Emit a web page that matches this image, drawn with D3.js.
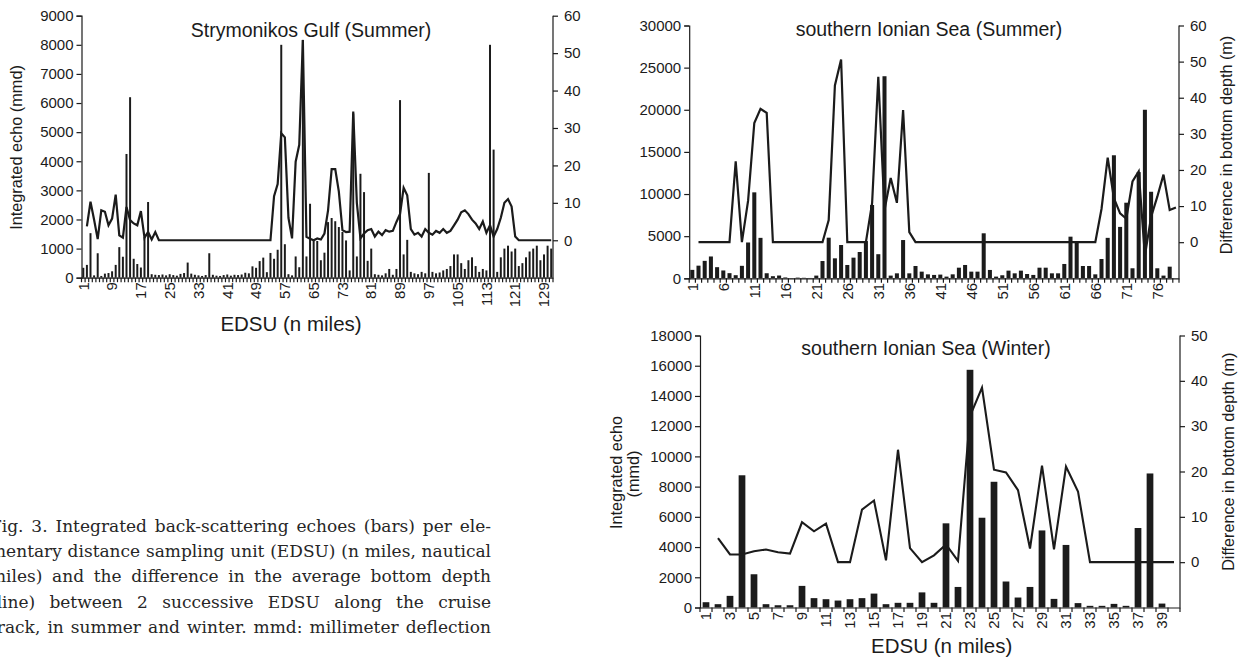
<!DOCTYPE html>
<html>
<head>
<meta charset="utf-8">
<script src="https://cdn.jsdelivr.net/npm/d3@7"></script>
<style>
  body { margin: 0; background: #fff; }
  #fig { position: relative; width: 1242px; height: 658px; overflow: hidden; background: #fff; }
  #fig svg { position: absolute; left: 0; top: 0; }
</style>
</head>
<body>
<div id="fig"></div>
<script>
// ---- data: Strymonikos Gulf (Summer), EDSU 1..131
var stryEcho = [340,440,1530,80,840,60,140,160,220,440,
  1050,720,4250,6200,650,470,350,1400,2600,120,
  100,90,110,80,120,90,70,130,160,520,
  140,100,80,60,90,840,100,70,60,90,
  110,70,100,90,110,170,150,390,340,570,
  690,190,850,650,960,8000,1150,120,80,730,
  360,8170,730,2540,1280,1260,600,860,1910,2050,
  1940,1740,1570,1280,250,5640,730,3570,2940,580,
  1000,120,100,80,150,300,100,300,6100,800,
  1300,200,150,120,200,150,3600,200,150,180,
  250,300,400,800,800,500,300,600,700,400,
  200,300,250,8000,4400,200,700,1000,1100,900,
  1000,400,500,700,900,1000,1100,600,800,1100,1000];
var stryDepth = [null,3.7,10.3,5.5,0.3,8.0,7.6,4.0,5.8,12.2,
  1.3,0.7,8.9,5.4,4.5,4.0,7.8,0.7,2.2,0.2,
  2.2,0,0,0,0,0,0,0,0,0,
  0,0,0,0,0,0,0,0,0,0,
  0,0,0,0,0,0,0,0,0,0,
  0,0,0,11.8,15,28.6,27.5,6,0.5,21,
  25.5,53.5,0.9,0.4,0,0.5,0.2,1.8,8,19,
  19,13,2.7,2.2,2.3,34.4,10,0.5,1.8,2.7,
  3,1,2.3,1.4,2.7,2.3,2.5,4.9,7,14,
  12,3,1.5,2,1,3,2,1.5,2.5,2,
  3,2,2.5,4,5.5,7.5,8,7,5.5,4.5,
  3,5,2,4,1,3,6,10,11,9,
  1,0,0,0,0,0,0,0,0,0,0];
var stryTicks = d3.range(1, 132, 8);

// ---- data: southern Ionian Sea (Summer), EDSU 1..79
var ionSumEcho = [1000,1500,2070,2590,1320,930,610,370,1480,4250,
  10200,4800,600,250,330,100,30,80,60,40,
  320,2050,4820,2370,3950,1580,2450,3120,4420,8700,
  2860,23980,320,590,4540,590,1460,790,470,400,
  440,200,470,1260,1580,790,790,5340,990,200,
  360,910,590,910,510,400,1260,1260,590,590,
  1700,4940,4270,1460,1460,470,2290,4800,14600,6100,
  8970,1190,12600,20000,10270,1190,320,1380,0];
var ionSumDepth = [null,0,0,0,0,0,0,22.4,0,11.5,
  33,36.9,35.8,0,0,0,0,0,0,0,
  0,0,6.1,43.4,50.6,0,0,0,0,10.8,
  45.8,8.9,17.8,10.9,36.6,2.8,0,0,0,0,
  0,0,0,0,0,0,0,0,0,0,
  0,0,0,0,0,0,0,0,0,0,
  0,0,0,0,0,0,9.2,23.4,12.2,8,
  6.5,16.8,19.6,-3.7,7,12.6,18.7,8.9,9.6];
var ionSumTicks = d3.range(1, 80, 5);

// ---- data: southern Ionian Sea (Winter), EDSU 1..40
var ionWinEcho = [350,220,770,8750,2200,220,150,150,1430,620,
  550,460,550,620,920,220,310,310,1000,310,
  5570,1360,15730,5940,8320,1720,660,1360,5100,570,
  4140,290,110,110,240,110,5260,8870,260,0];
var ionWinDepth = [null,5.3,1.7,1.7,2.4,2.8,2.2,1.9,8.8,6.8,
  8.5,0,0,11.6,13.6,0.4,24.8,3.1,0,1.5,
  3.9,0.3,32.2,38.5,20.4,19.8,15.9,3,21.3,2.8,
  21.1,15.6,0,0,0,0,0,0,0,0];
var ionWinTicks = d3.range(1, 41, 2);

var captionLines = [
  "Fig. 3. Integrated back-scattering echoes (bars) per ele-",
  "mentary distance sampling unit (EDSU) (n miles, nautical",
  "miles) and the difference in the average bottom depth",
  "(line) between 2 successive EDSU along the cruise",
  "track, in summer and winter. mmd: millimeter deflection"
];

var ink = "#1b1b1b";
var sans = "'Liberation Sans', Arial, sans-serif";

var svg = d3.select("#fig").append("svg")
  .attr("width", 1242).attr("height", 658);

function drawPanel(p) {
  var cats = d3.range(1, p.echo.length + 1);
  var x = d3.scaleBand().domain(cats).range([p.x0, p.x1]).padding(0);
  var bw = x.bandwidth();
  var yL = d3.scaleLinear().domain([0, p.leftMax]).range([p.yBot, p.yTop]);
  var yR = d3.scaleLinear().domain([p.rMin, p.rMax]).range([p.yBot, p.yTop]);
  var g = svg.append("g");

  // bars
  g.append("g").selectAll("rect")
    .data(p.echo)
    .join("rect")
    .attr("x", function(d, i) { return x(i + 1) + bw * (1 - p.barFrac) / 2; })
    .attr("width", bw * p.barFrac)
    .attr("y", function(d) { return yL(d); })
    .attr("height", function(d) { return p.yBot - yL(d); })
    .attr("fill", ink);

  // depth line
  var line = d3.line()
    .defined(function(d) { return d != null; })
    .x(function(d, i) { return x(i + 1) + bw / 2; })
    .y(function(d) { return yR(d); });
  g.append("path")
    .datum(p.depth)
    .attr("d", line)
    .attr("fill", "none")
    .attr("stroke", ink)
    .attr("stroke-width", p.lineW)
    .attr("stroke-linejoin", "miter");

  // left axis
  var ax = g.append("g")
    .attr("transform", "translate(" + p.x0 + ",0)")
    .call(d3.axisLeft(yL).tickValues(d3.range(0, p.leftMax + 1, p.leftStep))
      .tickSize(5).tickPadding(3).tickFormat(d3.format("d")));
  // right axis
  var ar = g.append("g")
    .attr("transform", "translate(" + p.x1 + ",0)")
    .call(d3.axisRight(yR).tickValues(d3.range(0, p.rMax + 1, 10))
      .tickSize(5).tickPadding(6).tickFormat(d3.format("d")));
  ar.select(".domain").attr("d", "M0," + p.yTop + "V" + p.yBot);

  // bottom axis with rotated labels
  var ab = g.append("g")
    .attr("transform", "translate(0," + p.yBot + ")")
    .call(d3.axisBottom(x).tickValues(p.ticks).tickSize(0).tickPadding(0));
  ab.selectAll("text")
    .attr("transform", "rotate(-90)")
    .attr("x", -4.5).attr("y", 0).attr("dy", "0.35em")
    .style("text-anchor", "end");
  ab.append("g").selectAll("line")
    .data(d3.range(0, cats.length + 1))
    .join("line")
    .attr("x1", function(i) { return p.x0 + i * bw; })
    .attr("x2", function(i) { return p.x0 + i * bw; })
    .attr("y1", 0).attr("y2", 4.5)
    .attr("stroke", ink).attr("stroke-width", 1);

  [ax, ar, ab].forEach(function(a) {
    a.selectAll("text").attr("font-family", sans).attr("font-size", 15).attr("fill", ink);
    a.selectAll(".domain, line").attr("stroke", ink).attr("stroke-width", 1.2);
  });

  // title
  g.append("text")
    .attr("x", p.titleX).attr("y", p.titleY)
    .attr("text-anchor", "middle")
    .attr("font-family", sans).attr("font-size", 19.5).attr("fill", ink)
    .text(p.title);

  // axis labels
  (p.leftLabel || []).forEach(function(l) {
    g.append("text")
      .attr("transform", "translate(" + l.x + "," + l.y + ") rotate(-90)")
      .attr("text-anchor", "middle").attr("dy", "0.35em")
      .attr("font-family", sans).attr("font-size", 16.3).attr("fill", ink)
      .text(l.t);
  });
  if (p.rightLabel) {
    g.append("text")
      .attr("transform", "translate(" + p.rightLabel.x + "," + p.rightLabel.y + ") rotate(-90)")
      .attr("text-anchor", "middle").attr("dy", "0.35em")
      .attr("font-family", sans).attr("font-size", 16.2).attr("fill", ink)
      .text(p.rightLabel.t);
  }
  if (p.xLabel) {
    g.append("text")
      .attr("x", p.xLabel.x).attr("y", p.xLabel.y)
      .attr("text-anchor", "middle")
      .attr("font-family", sans).attr("font-size", 20.5).attr("fill", ink)
      .text("EDSU (n miles)");
  }
}

drawPanel({
  echo: stryEcho, depth: stryDepth, ticks: stryTicks,
  x0: 81.5, x1: 553, yTop: 15.7, yBot: 277.7,
  leftMax: 9000, leftStep: 1000, rMin: -10, rMax: 60,
  barFrac: 0.55, lineW: 2.2,
  title: "Strymonikos Gulf (Summer)", titleX: 311, titleY: 36.5,
  leftLabel: [{ t: "Integrated echo (mmd)", x: 16.7, y: 147.5 }],
  xLabel: { x: 291, y: 331 }
});

drawPanel({
  echo: ionSumEcho, depth: ionSumDepth, ticks: ionSumTicks,
  x0: 689.2, x1: 1179, yTop: 25.5, yBot: 278.3,
  leftMax: 30000, leftStep: 5000, rMin: -10, rMax: 60,
  barFrac: 0.65, lineW: 2.2,
  title: "southern Ionian Sea (Summer)", titleX: 929, titleY: 36,
  rightLabel: { t: "Difference in bottom depth (m)", x: 1226, y: 145 }
});

drawPanel({
  echo: ionWinEcho, depth: ionWinDepth, ticks: ionWinTicks,
  x0: 700, x1: 1180, yTop: 335.5, yBot: 607.5,
  leftMax: 18000, leftStep: 2000, rMin: -10, rMax: 50,
  barFrac: 0.56, lineW: 2.1,
  title: "southern Ionian Sea (Winter)", titleX: 926, titleY: 355,
  leftLabel: [{ t: "Integrated echo", x: 616.7, y: 472.5 }, { t: "(mmd)", x: 633.3, y: 474 }],
  rightLabel: { t: "Difference in bottom depth (m)", x: 1228.3, y: 461.7 },
  xLabel: { x: 941.7, y: 653 }
});

// ---- caption, justified word by word (left edge runs off the page as in the source)
var cap = svg.append("g")
  .attr("font-family", "'DejaVu Serif', serif")
  .attr("font-size", 17)
  .attr("fill", "#262626");
var capLeft = -10, capRight = 491, capBase = 531.7, capLead = 25.3;
captionLines.forEach(function(ln, li) {
  var words = ln.split(" ");
  var tmp = cap.append("text").attr("visibility", "hidden");
  var widths = words.map(function(w) {
    tmp.text(w);
    return tmp.node().getComputedTextLength();
  });
  tmp.remove();
  var total = d3.sum(widths);
  var gap = (capRight - capLeft - total) / (words.length - 1);
  var cx = capLeft;
  words.forEach(function(w, wi) {
    cap.append("text")
      .attr("x", cx).attr("y", capBase + li * capLead)
      .text(w);
    cx += widths[wi] + gap;
  });
});
</script>
</body>
</html>
